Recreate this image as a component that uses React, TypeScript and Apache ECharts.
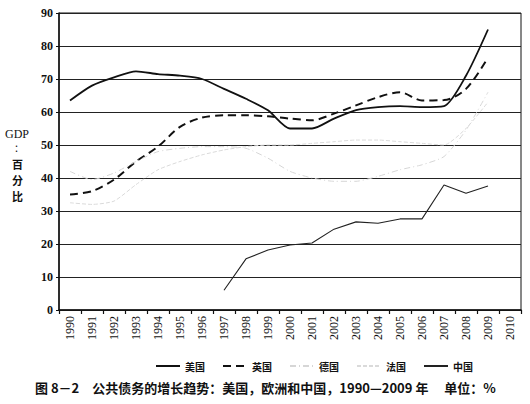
import React, { useEffect, useRef } from "react";
import * as echarts from "echarts";

const years = ["1990","1991","1992","1993","1994","1995","1996","1997","1998","1999","2000","2001","2002","2003","2004","2005","2006","2007","2008","2009","2010"];
const usa = [63.5, 68, 70.5, 72.3, 71.5, 71, 70, 67, 64, 60.5, 55, 55, 58, 60.6, 61.5, 61.8, 61.5, 61.8, 71, 85, null];
const uk = [35, 36, 39.5, 45, 49.5, 55.5, 58.3, 59, 59, 58.7, 58, 57.5, 59.5, 62, 64.5, 66, 63.5, 63.6, 67, 76.5, null];
const germany = [42, 39.5, 41.5, 45, 48, 49, 49.5, 49.5, 49, 46, 42, 40, 39, 39, 40.5, 42.5, 44, 46.5, 54.5, 66, null];
const france = [32.5, 32, 33, 38, 42.5, 45, 47, 48.5, 49.5, 50, 50, 50.5, 51, 51.5, 51.5, 51, 50.5, 50, 55, 63, null];
const china = [null, null, null, null, null, null, null, 6, 15.5, 18.2, 19.7, 20.3, 24.5, 26.7, 26.3, 27.6, 27.6, 37.9, 35.4, 37.6, null];
const yTicks = { min: 0, max: 90, interval: 10 };
const seriesNames = ["美国", "英国", "德国", "法国", "中国"];
const yName = ["GDP", "︰", "百", "分", "比"];
const caption = "图 8－2　公共债务的增长趋势：美国，欧洲和中国，1990—2009 年　 单位：%";

export default function App() {
  const ref = useRef<HTMLDivElement>(null);
  useEffect(() => {
    const chart = echarts.init(ref.current!, null, { renderer: "svg" });
    const serif = "'Liberation Serif', 'DejaVu Serif', serif";
    const cjk = "'Noto Sans CJK SC', sans-serif";
    const vChar = (t: string, top: number, size: number) => ({
      type: "text", left: 12, top,
      style: { text: t, fontFamily: cjk, fontSize: size, lineHeight: size, fill: "#111", fontWeight: "bold" },
    });
    chart.setOption({
      animation: false,
      backgroundColor: "#fff",
      grid: { left: 59, right: 9, top: 13, bottom: 94, show: true, borderColor: "#111", borderWidth: 1, backgroundColor: "transparent" },
      legend: {
        left: 150,
        top: 356,
        itemWidth: 24,
        itemHeight: 8,
        itemGap: 17,
        itemStyle: { opacity: 0 },
        textStyle: { fontFamily: cjk, fontSize: 10, color: "#111", fontWeight: "bold" },
        data: seriesNames,
      },
      xAxis: {
        type: "category",
        data: years,
        boundaryGap: true,
        axisLine: { lineStyle: { color: "#111", width: 1.5 } },
        axisTick: { show: true, length: 4, lineStyle: { color: "#111", width: 1.2 }, alignWithLabel: false },
        axisLabel: { rotate: 90, fontFamily: serif, fontSize: 12, color: "#111", margin: 6, interval: 0 },
        splitLine: { show: false },
      },
      yAxis: {
        type: "value",
        min: yTicks.min,
        max: yTicks.max,
        interval: yTicks.interval,
        axisLine: { show: true, lineStyle: { color: "#111", width: 1.5 } },
        axisTick: { show: true, length: 3, lineStyle: { color: "#111" } },
        axisLabel: { fontFamily: serif, fontSize: 12, fontWeight: "bold", color: "#111", margin: 6 },
        splitLine: { show: true, lineStyle: { color: "#222", width: 1.2 } },
      },
      series: [
        { name: seriesNames[0], type: "line", data: usa, symbol: "none", smooth: 0.25, color: "#111", lineStyle: { color: "#111", width: 1.8, type: "solid" } },
        { name: seriesNames[1], type: "line", data: uk, symbol: "none", smooth: 0.3, color: "#111", lineStyle: { color: "#111", width: 2, type: [8, 5] } },
        { name: seriesNames[2], type: "line", data: germany, symbol: "none", smooth: 0.2, color: "#d6d6d6", lineStyle: { color: "#d6d6d6", width: 1, type: [6, 3, 1, 3] } },
        { name: seriesNames[3], type: "line", data: france, symbol: "none", smooth: 0.2, color: "#dadada", lineStyle: { color: "#dadada", width: 1, type: [4, 2] } },
        { name: seriesNames[4], type: "line", data: china, symbol: "none", smooth: false, color: "#222", lineStyle: { color: "#222", width: 1.1, type: "solid" } },
      ],
      graphic: [
        { type: "text", left: 5, top: 128, style: { text: yName[0], fontFamily: serif, fontSize: 12, fill: "#111" } },
        vChar(yName[1], 144, 9),
        vChar(yName[2], 158, 11),
        vChar(yName[3], 174, 11),
        vChar(yName[4], 190, 11),
        { type: "text", left: 35, top: 381, style: { text: caption, fontFamily: cjk, fontSize: 13, fill: "#111", fontWeight: "bold" } },
      ],
    });
    return () => chart.dispose();
  }, []);
  return <div ref={ref} style={{ position: "fixed", left: 0, top: 0, width: 530, height: 404 }} />;
}
